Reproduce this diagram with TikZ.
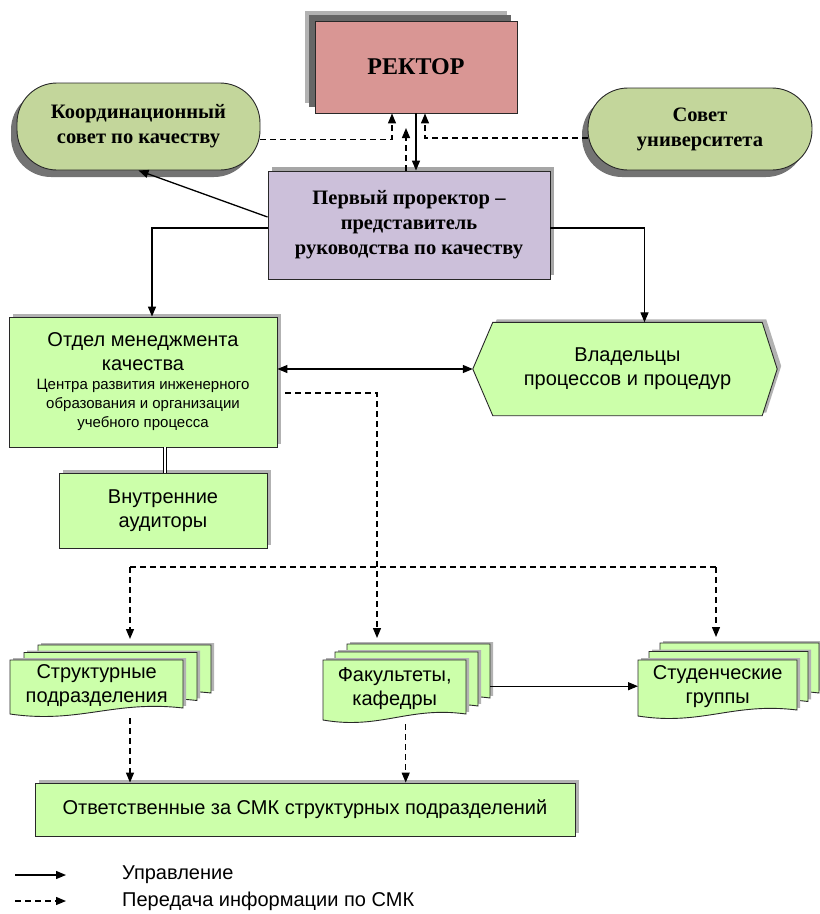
\documentclass[tikz,border=0pt]{standalone}
\usepackage{fontspec}
\setmainfont{Liberation Serif}
\setsansfont{Liberation Sans}
\usetikzlibrary{arrows.meta,shadows,backgrounds}
\definecolor{rectorfill}{RGB}{217,150,148}
\definecolor{prorfill}{RGB}{204,192,218}
\definecolor{councilfill}{RGB}{195,214,155}
\definecolor{unitfill}{RGB}{204,255,170}
\definecolor{edge}{RGB}{40,40,40}
\newcommand{\subtext}{\fontsize{15}{18}\selectfont}
% stack of three sheets: name, x, y (front top left), width, height, dx, dy, text
\newcommand{\docstack}[8]{%
  \foreach \k in {2,1,0}{%
    \begin{scope}[shift={({#2+\k*#6},{#3-\k*#7})}]
      \draw[sheet] (0,0) -- (#4,0) -- (#4,#5-6) .. controls ({0.6*#4},#5-14) and ({0.4*#4},#5+10) .. (0,#5) -- cycle;
    \end{scope}}
  \node[stacktxt,minimum width=#4,minimum height=#5-4,anchor=north west] (#1) at (#2,#3) {#8};
  \coordinate (#1-back) at ({#2+2*#6+#4},{#3-2*#7});}

\begin{document}
\begin{tikzpicture}[x=1pt,y=-1pt,
  outline/.style={draw=edge,line width=0.9pt},
  head/.style={outline,inner sep=0pt,align=center,font=\bfseries\fontsize{20.5}{25}\selectfont},
  rectorbox/.style={head,fill=rectorfill,font=\bfseries\fontsize{24}{28}\selectfont,
    drop shadow={shadow xshift=-10pt,shadow yshift=10pt,fill=black!30,opacity=1},
    drop shadow={shadow xshift=-6pt,shadow yshift=6pt,fill=black!60,opacity=1}},
  prorbox/.style={head,fill=prorfill,drop shadow={shadow xshift=4pt,shadow yshift=4pt,fill=black!35,opacity=1}},
  council/.style={head,fill=councilfill,rounded corners=40pt,
    drop shadow={shadow xshift=-6pt,shadow yshift=-7pt,fill=black!55,opacity=1}},
  unit/.style={outline,fill=unitfill,inner sep=0pt,align=center,font=\sffamily\fontsize{20}{24}\selectfont,
    drop shadow={shadow xshift=4pt,shadow yshift=3pt,fill=black!30,opacity=1}},
  sheet/.style={outline,fill=unitfill,drop shadow={shadow xshift=3pt,shadow yshift=2pt,fill=black!30,opacity=1}},
  stacktxt/.style={inner sep=0pt,align=center,font=\sffamily\fontsize{20}{24}\selectfont},
  lgd/.style={anchor=west,inner sep=0pt,font=\sffamily\fontsize{20}{24}\selectfont},
  arr/.style={-{Triangle[length=10pt,width=8pt]},line width=1.3pt},
  darr/.style={{Triangle[length=10pt,width=8pt]}-{Triangle[length=10pt,width=8pt]},line width=1.3pt},
  dasharr/.style={arr,dash pattern=on 6pt off 4pt},
  dashline/.style={line width=1.3pt,dash pattern=on 6pt off 4pt}
]
\useasboundingbox (0,0) rectangle (820,914);

% top level
\node[rectorbox,minimum width=202,minimum height=92] (rector) at (416,67) {РЕКТОР};
\node[council,minimum width=243,minimum height=87] (coord) at (138.5,126.5) {Координационный\\ совет по качеству};
\node[council,minimum width=224,minimum height=82] (senate) at (700,129) {Совет\\ университета};
\node[prorbox,minimum width=282,minimum height=108] (prorector) at (409,225) {Первый проректор –\\ представитель\\ руководства по качеству};

% middle level
\node[unit,minimum width=268,minimum height=130] (qmd) at (143,382) {Отдел менеджмента\\ качества\\[-5pt] \subtext Центра развития инженерного\\[-5pt] \subtext образования и организации\\[-5pt] \subtext учебного процесса};
\node[unit,minimum width=208,minimum height=75] (audit) at (163,510.5) {Внутренние\\ аудиторы};
\node[stacktxt,minimum width=269,minimum height=93] (owners) at (627.5,369) {Владельцы\\ процессов и процедур};
\begin{scope}[on background layer]
\draw[outline,fill=unitfill,drop shadow={shadow xshift=4pt,shadow yshift=3pt,fill=black!30,opacity=1}]
  ([xshift=-20pt]owners.west) coordinate (owntip) -- (owners.north west) -- (owners.north east)
  -- ([xshift=15pt]owners.east) -- (owners.south east) -- (owners.south west) -- cycle;
\end{scope}

% lower level
\docstack{units}{10}{660}{173}{54}{14}{7.5}{Структурные\\ подразделения}
\docstack{fac}{323}{660}{143}{60}{12}{8}{Факультеты,\\ кафедры}
\docstack{groups}{638}{660}{159}{56}{11}{8.5}{Студенческие\\ группы}
\node[unit,minimum width=540,minimum height=53] (resp) at (305,809.5) {Ответственные за СМК структурных подразделений};

% connectors
\draw[arr] (rector.south) -- (rector.south |- prorector.north);
\draw[dasharr] ([yshift=-13pt]coord.east) -| ([xshift=-24pt]rector.south);
\draw[dasharr] ([yshift=-9pt]senate.west) -| ([xshift=9pt]rector.south);
\coordinate (upend) at (406,128);
\draw[dasharr] ([xshift=-3pt]prorector.north) -- (upend);
\draw[arr] ([yshift=8pt]prorector.west) -- (coord.south);
\draw[arr] ([yshift=-3pt]prorector.west) -| ([xshift=9pt]qmd.north);
\draw[arr] ([yshift=-3pt]prorector.east) -| ([xshift=17pt]owners.north);
\draw[darr] (qmd.east |- owntip) -- (owntip);
\draw[double,double distance=2.5pt,line width=0.8pt] ([xshift=22pt]qmd.south) -- ([xshift=22pt]qmd.south |- audit.north);

\coordinate (infoL) at (285,393);
\coordinate (infoR) at (377,393);
\draw[dasharr,shorten >=6pt] (infoL) -- (infoR) -- (infoR |- fac-back);
\coordinate (busL) at (130,567);
\coordinate (busR) at (716,567);
\draw[dashline] (busL) -- (busR);
\draw[dasharr,shorten >=6pt] (busL) -- (busL |- units-back);
\draw[dasharr,shorten >=6pt] (busR) -- (busR |- groups-back);
\draw[dasharr] (busL |- units.south) ++(0,8) -- (busL |- resp.north);
\draw[dasharr] ([xshift=11pt,yshift=-8pt]fac.south) -- ([xshift=11pt]fac.south |- resp.north);
\draw[arr] (fac-back |- groups.west) -- (groups.west);

% legend
\coordinate (ctlA) at (15,875);
\coordinate (ctlB) at (66,875);
\coordinate (infA) at (15,901);
\coordinate (infB) at (66,901);
\draw[arr] (ctlA) -- (ctlB);
\draw[dasharr] (infA) -- (infB);
\node[lgd] (ctl) at (122,875) {Управление};
\node[lgd] (inf) at (122,901) {Передача информации по СМК};
\end{tikzpicture}
\end{document}
